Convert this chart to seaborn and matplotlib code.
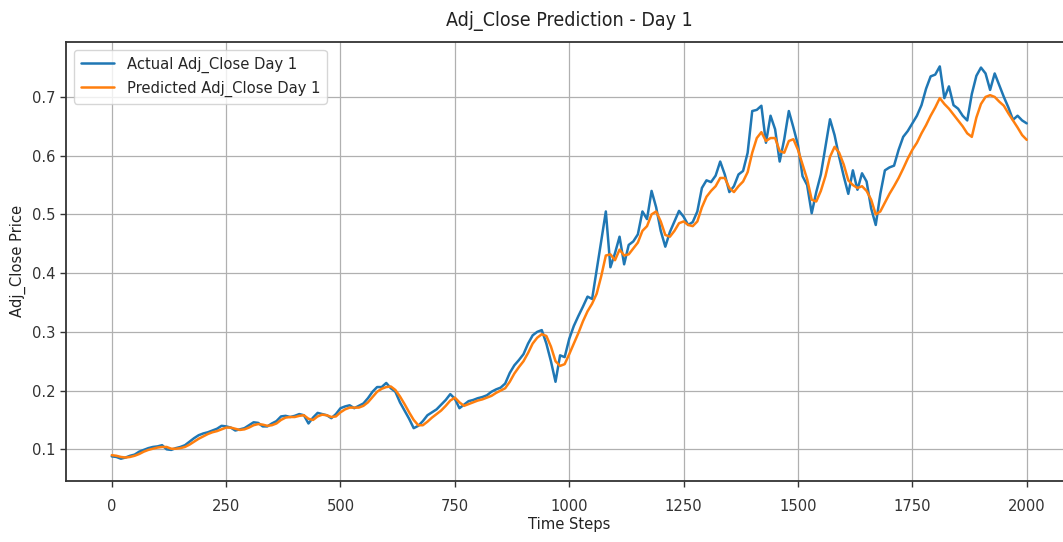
import numpy as np
import pandas as pd
import matplotlib
matplotlib.use("Agg")
import matplotlib.pyplot as plt
from matplotlib import font_manager
import seaborn as sns

# Time steps sampled every 10 steps from 0 to 2000
time_steps = np.arange(0, 2001, 10)

actual_adj_close = [
    0.088, 0.087, 0.084, 0.086, 0.089, 0.091, 0.096, 0.099, 0.102, 0.104,
    0.105, 0.107, 0.100, 0.099, 0.102, 0.104, 0.107, 0.113, 0.119, 0.124,
    0.127, 0.129, 0.132, 0.135, 0.140, 0.139, 0.137, 0.132, 0.134, 0.136,
    0.141, 0.146, 0.145, 0.139, 0.139, 0.144, 0.148, 0.156, 0.157, 0.155,
    0.157, 0.160, 0.158, 0.144, 0.154, 0.162, 0.160, 0.158, 0.153, 0.160,
    0.170, 0.173, 0.175, 0.170, 0.174, 0.178, 0.187, 0.198, 0.206, 0.206,
    0.213, 0.204, 0.198, 0.180, 0.166, 0.152, 0.136, 0.140, 0.148, 0.158,
    0.163, 0.168, 0.176, 0.184, 0.194, 0.186, 0.170, 0.176, 0.182, 0.184,
    0.187, 0.189, 0.192, 0.198, 0.202, 0.205, 0.212, 0.230, 0.243, 0.252,
    0.262, 0.280, 0.294, 0.300, 0.303, 0.280, 0.250, 0.215, 0.260, 0.257,
    0.288, 0.310, 0.327, 0.343, 0.360, 0.356, 0.405, 0.455, 0.505, 0.410,
    0.434, 0.462, 0.415, 0.448, 0.454, 0.466, 0.505, 0.492, 0.540, 0.512,
    0.472, 0.445, 0.470, 0.488, 0.506, 0.496, 0.482, 0.487, 0.505, 0.545,
    0.558, 0.555, 0.566, 0.590, 0.568, 0.538, 0.548, 0.568, 0.574, 0.605,
    0.676, 0.678, 0.685, 0.622, 0.668, 0.645, 0.590, 0.628, 0.676, 0.648,
    0.618, 0.565, 0.550, 0.502, 0.538, 0.568, 0.615, 0.662, 0.635, 0.598,
    0.565, 0.535, 0.575, 0.542, 0.570, 0.556, 0.510, 0.482, 0.535, 0.575,
    0.580, 0.583, 0.610, 0.632, 0.642, 0.655, 0.668, 0.686, 0.714, 0.735,
    0.738, 0.752, 0.698, 0.718, 0.686, 0.680, 0.668, 0.660, 0.705, 0.736,
    0.750, 0.740, 0.712, 0.740, 0.720, 0.700, 0.682, 0.661, 0.668, 0.660,
    0.655,
]

predicted_adj_close = [
    0.090, 0.089, 0.087, 0.086, 0.087, 0.089, 0.092, 0.096, 0.099, 0.101,
    0.103, 0.104, 0.104, 0.101, 0.101, 0.102, 0.104, 0.108, 0.113, 0.118,
    0.122, 0.126, 0.129, 0.131, 0.134, 0.137, 0.137, 0.135, 0.133, 0.134,
    0.137, 0.141, 0.143, 0.142, 0.140, 0.141, 0.144, 0.150, 0.154, 0.155,
    0.155, 0.157, 0.158, 0.152, 0.150, 0.156, 0.159, 0.158, 0.155, 0.156,
    0.163, 0.168, 0.171, 0.171, 0.171, 0.174, 0.180, 0.189, 0.198, 0.203,
    0.206, 0.207, 0.201, 0.190, 0.177, 0.163, 0.150, 0.141, 0.141, 0.147,
    0.154, 0.160, 0.166, 0.174, 0.183, 0.188, 0.180, 0.174, 0.177, 0.180,
    0.183, 0.185, 0.188, 0.191, 0.196, 0.200, 0.204, 0.215, 0.229, 0.240,
    0.250, 0.264, 0.280, 0.290, 0.296, 0.293, 0.275, 0.250, 0.242, 0.245,
    0.262, 0.280, 0.298, 0.318, 0.335, 0.348, 0.365, 0.395, 0.430, 0.432,
    0.422, 0.440, 0.430, 0.432, 0.442, 0.452, 0.472, 0.480, 0.500, 0.505,
    0.488, 0.465, 0.462, 0.472, 0.485, 0.488, 0.482, 0.480, 0.488, 0.512,
    0.530, 0.540, 0.548, 0.562, 0.562, 0.545, 0.538, 0.548, 0.556, 0.572,
    0.605, 0.630, 0.640, 0.625, 0.630, 0.630, 0.608, 0.605, 0.625, 0.628,
    0.610, 0.585, 0.560, 0.525, 0.522, 0.540, 0.565, 0.598, 0.615, 0.605,
    0.585, 0.558, 0.550, 0.545, 0.548, 0.540, 0.525, 0.500, 0.505, 0.520,
    0.535, 0.548, 0.562, 0.578, 0.595, 0.610, 0.622, 0.638, 0.652, 0.668,
    0.682, 0.698, 0.688, 0.680, 0.670, 0.660, 0.650, 0.638, 0.632, 0.665,
    0.688, 0.700, 0.703, 0.700, 0.692, 0.685, 0.672, 0.660, 0.648, 0.635,
    0.627,
]

x_ticks = [0, 250, 500, 750, 1000, 1250, 1500, 1750, 2000]
y_ticks = [0.1, 0.2, 0.3, 0.4, 0.5, 0.6, 0.7]

series_names = ["Actual Adj_Close Day 1", "Predicted Adj_Close Day 1"]
series_colors = ["#1f77b4", "#ff7f0e"]

df = pd.DataFrame({
    "Time Steps": np.concatenate([time_steps, time_steps]),
    "Adj_Close Price": np.concatenate([actual_adj_close, predicted_adj_close]),
    "Series": [series_names[0]] * len(time_steps) + [series_names[1]] * len(time_steps),
})

sns.set_theme(style="ticks")
plt.rcParams["font.family"] = ["DejaVu Sans"]

# Prefer the condensed cut of DejaVu Sans when it is installed
have_condensed = any(
    f.name == "DejaVu Sans" and "condensed" in str(f.stretch)
    for f in font_manager.fontManager.ttflist
)
if have_condensed:
    plt.rcParams["font.stretch"] = "condensed"
    base_size, title_size = 11.8, 14.0
else:
    base_size, title_size = 10.5, 12.6

fig = plt.figure(figsize=(10.63, 5.42), dpi=100)
ax = fig.add_axes([0.0621, 0.1125, 0.9468, 0.8105])

sns.lineplot(
    data=df, x="Time Steps", y="Adj_Close Price", hue="Series",
    palette=series_colors, hue_order=series_names, linewidth=1.8, ax=ax,
)

ax.set_xlim(-100, 2100)
ax.set_ylim(0.046, 0.794)
ax.set_xticks(x_ticks)
ax.set_xticklabels([str(t) for t in x_ticks])
ax.set_yticks(y_ticks)
ax.set_yticklabels([f"{t:.1f}" for t in y_ticks])
ax.tick_params(axis="both", labelsize=base_size, colors="#333333", length=4, width=1)
ax.tick_params(axis="x", pad=9)
ax.grid(True, color="#b0b0b0", linewidth=0.9)

for spine in ax.spines.values():
    spine.set_color("#333333")
    spine.set_linewidth(1.3)

ax.set_title("Adj_Close Prediction - Day 1", fontsize=title_size, color="#222222", pad=11)
ax.set_xlabel("Time Steps", fontsize=base_size, color="#222222", labelpad=2)
ax.set_ylabel("Adj_Close Price", fontsize=base_size, color="#222222")

leg = ax.legend(loc="upper left", fontsize=base_size, frameon=True)
leg.set_title(None)

fig.savefig("out.png", dpi=100)
